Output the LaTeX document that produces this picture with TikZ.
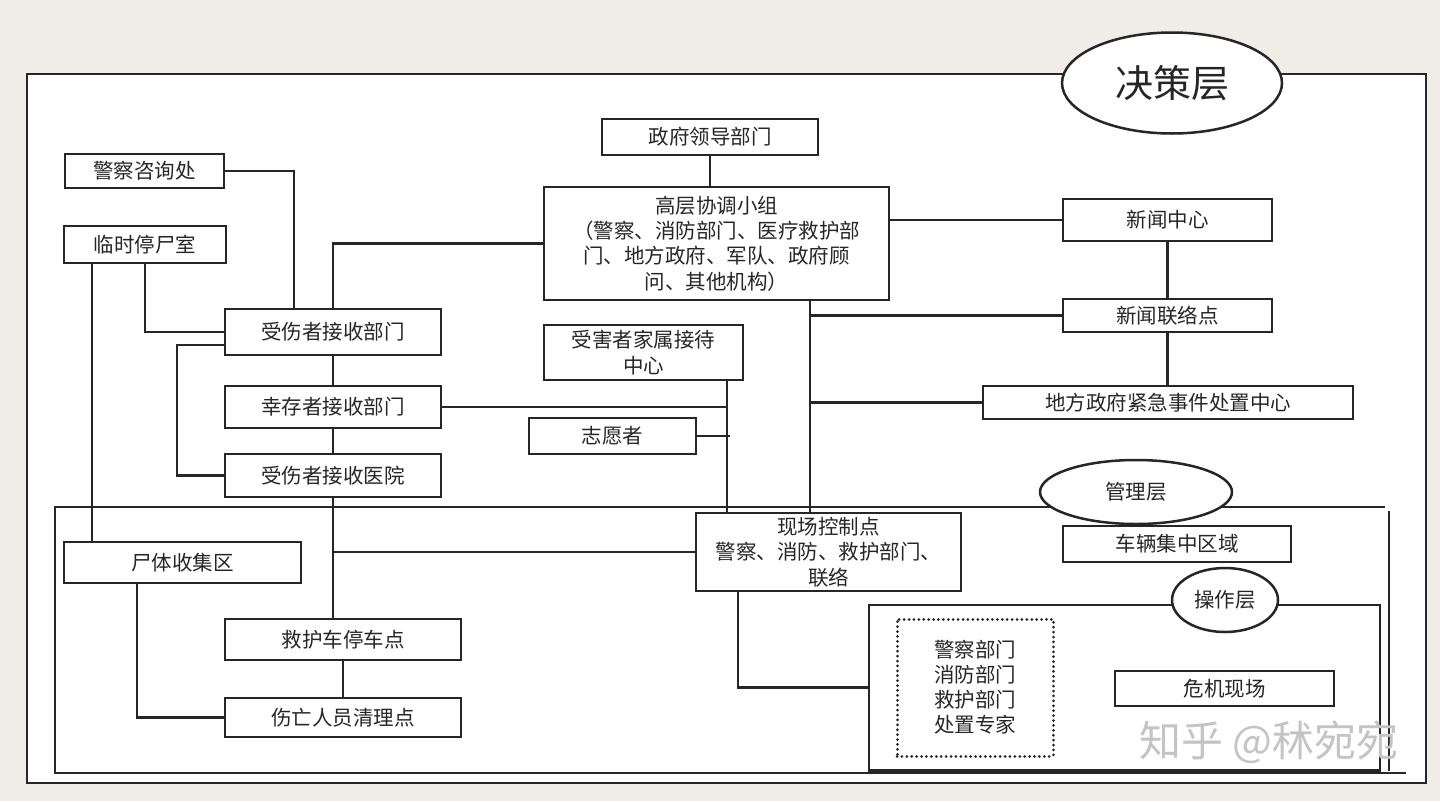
\documentclass[tikz,border=0pt]{standalone}
\usepackage{fontspec}
\setmainfont{Noto Sans CJK SC}
\usetikzlibrary{shapes.geometric,calc}
\definecolor{bgc}{HTML}{F0EDE8}
\definecolor{ink}{HTML}{262626}
\definecolor{wm}{HTML}{C4C4C4}
\newcommand\myfs{\fontsize{20.5}{25.3}\selectfont}
\begin{document}
\begin{tikzpicture}[x=1pt,y=-1pt,
  box/.style={draw=ink, line width=2.8pt, fill=white, inner sep=0pt, font=\myfs, align=center, text=ink},
  conn/.style={draw=ink, line width=2.8pt},
  frame/.style={draw=ink, line width=2.8pt},
  layer/.style={ellipse, draw=ink, line width=2.5pt, fill=white, inner sep=0pt, text=ink, font=\myfs}]
% background and bounding box
\fill[bgc] (0,0) rectangle (1440,801);
\useasboundingbox (0,0) rectangle (1440,801);
% x positions
\coordinate (x92) at (92,0);
\coordinate (x137) at (137,0);
\coordinate (x145) at (145,0);
\coordinate (x177) at (177,0);
\coordinate (x294) at (294,0);
\coordinate (x727) at (727,0);
\coordinate (x730) at (730,0);
\coordinate (x738) at (738,0);
\coordinate (x810) at (810,0);
% outer frame
\draw[frame, fill=white] (27,74) rectangle (1426,783);
% management frame
\draw[frame] (1385,507) -- (55,507) -- (55,773) -- (1406,773);
\draw[frame] (1389,511) -- (1389,771);
% operating frame
\node[draw=ink, line width=2.8pt, minimum width=511pt, minimum height=165pt, inner sep=0pt] (opf) at (1124.5,687.5) {};
\draw[draw=ink, line width=3.8pt] (opf.south west) -- (opf.south east);
% layer ellipses
\node[layer, minimum width=220pt, minimum height=101pt, font=\fontsize{38}{40}\selectfont] (jcc) at (1172,83) {决策层};
\node[layer, minimum width=192pt, minimum height=64pt] (glc) at (1136,492) {管理层};
\node[layer, minimum width=106pt, minimum height=64pt] (czc) at (1225,600) {操作层};
% boxes
\node[box, minimum width=159pt, minimum height=34pt] (jc) at (144.5,171) {警察咨询处};
\node[box, minimum width=162pt, minimum height=37pt] (ls) at (145,244.5) {临时停尸室};
\node[box, minimum width=216pt, minimum height=46pt] (sr) at (333,332) {受伤者接收部门};
\node[box, minimum width=216pt, minimum height=42pt] (xc) at (333,407) {幸存者接收部门};
\node[box, minimum width=216pt, minimum height=43pt] (yy) at (333,475.5) {受伤者接收医院};
\node[box, minimum width=216pt, minimum height=36pt] (zf) at (710,137) {政府领导部门};
\node[box, minimum width=345pt, minimum height=113pt] (gc) at (716.5,243.5) {高层协调小组\\（警察、消防部门、医疗救护部\\门、地方政府、军队、政府顾\\问、其他机构）};
\node[box, minimum width=199pt, minimum height=55pt] (sh) at (643.5,352.5) {受害者家属接待\\中心};
\node[box, minimum width=167pt, minimum height=36pt] (zy) at (612.5,436) {志愿者};
\node[box, minimum width=209pt, minimum height=42pt] (xw) at (1167.5,220) {新闻中心};
\node[box, minimum width=209pt, minimum height=33pt] (ll) at (1167.5,315.5) {新闻联络点};
\node[box, minimum width=370pt, minimum height=33pt] (df) at (1168,402.5) {地方政府紧急事件处置中心};
\node[box, minimum width=237pt, minimum height=41pt] (st) at (182.5,562.5) {尸体收集区};
\node[box, minimum width=236pt, minimum height=41pt] (jh) at (343,639.5) {救护车停车点};
\node[box, minimum width=236pt, minimum height=39pt] (sw) at (343,717.5) {伤亡人员清理点};
\node[box, minimum width=265pt, minimum height=78pt] (xk) at (828.5,552) {现场控制点\\警察、消防、救护部门、\\联络};
\node[box, minimum width=228pt, minimum height=36pt] (cl) at (1177,544) {车辆集中区域};
\node[box, minimum width=219pt, minimum height=35pt] (wj) at (1224.5,688.5) {危机现场};
\node[box, minimum width=156pt, minimum height=137pt, line width=3pt, line cap=round, dash pattern=on 0.01pt off 4.9pt, font=\fontsize{20.5}{25}\selectfont] (zh) at (975,687.5) {警察部门\\消防部门\\救护部门\\处置专家};
% connectors
\coordinate (srw2) at ([yshift=-13pt]sr.west);
\draw[conn] (jc.east) -| (x294 |- sr.north);
\draw[conn] (ls.south -| x145) |- (sr.west);
\draw[conn] (ls.south -| x92) -- (st.north -| x92);
\draw[conn] (srw2) -- (srw2 -| x177) |- (yy.west);
\draw[conn] (sr.north) |- (gc.west);
\draw[conn] (sr.south) -- (xc.north);
\draw[conn] (xc.south) -- (yy.north);
\draw[conn] (xc.east) -- (xc.east -| x727);
\draw[conn] (zf.south) -- (zf.south |- gc.north);
\draw[conn] (gc.east |- xw.west) -- (xw.west);
\draw[conn] (gc.south -| x810) -- (xk.north -| x810);
\draw[conn] (x810 |- ll.west) -- (ll.west);
\draw[conn] (x810 |- df.west) -- (df.west);
\draw[conn] (xw.south) -- (ll.north);
\draw[conn] (ll.south) -- (ll.south |- df.north);
\draw[conn] (sh.south -| x727) -- (xk.north -| x727);
\draw[conn] (zy.east) -- (zy.east -| x730);
\draw[conn] (yy.south) -- (yy.south |- jh.north);
\draw[conn] (yy.south |- xk.west) -- (xk.west);
\draw[conn] (jh.south) -- (sw.north);
\draw[conn] (st.south -| x137) |- (sw.west);
\draw[conn] (xk.south -| x738) |- (opf.west);
% watermark
\node[text=wm, font=\fontsize{42}{44}\selectfont, inner sep=0pt] (wmk) at (1269,742) {知乎 @秫宛宛};
\end{tikzpicture}
\end{document}
